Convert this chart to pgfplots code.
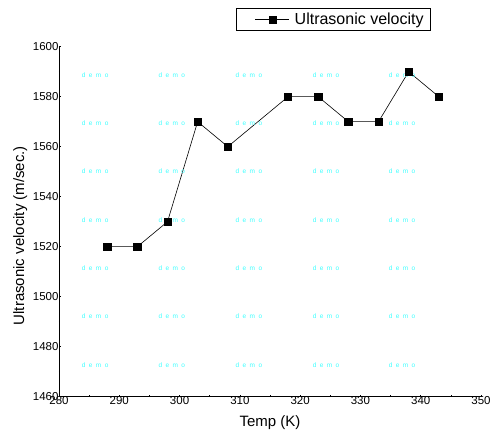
\documentclass[border=0pt]{standalone}
\usepackage{pgfplots}
\pgfplotsset{compat=1.18}
\usepackage{fontspec}
\setmainfont{Liberation Sans}
\definecolor{wmcyan}{RGB}{64,255,255}
\newcommand{\wm}{d\hspace{3.4pt}e\hspace{3.4pt}m\hspace{3.4pt}o}
\begin{document}
\begin{tikzpicture}
\begin{axis}[
  scale only axis, width=422pt, height=350pt,
  xmin=280, xmax=350, ymin=1460, ymax=1600,
  axis x line*=bottom, axis y line*=left,
  axis line style={line width=0.9pt},
  xtick={280,290,...,350}, ytick={1460,1480,...,1600},
  minor x tick num=1, minor y tick num=1,
  tick align=inside, major tick length=2pt, minor tick length=1.5pt,
  tick style={black, line width=0.6pt},
  /pgf/number format/assume math mode=true,
  /pgf/number format/1000 sep={},
  tick label style={font=\fontsize{11.5}{12}\selectfont},
  xticklabel style={yshift=4pt},
  yticklabel style={xshift=3pt},
  xlabel={Temp (K)},
  ylabel={Ultrasonic velocity (m/sec.)},
  label style={font=\fontsize{15}{16}\selectfont},
  xlabel style={at={(axis description cs:0.5,-0.075)}, anchor=center},
  ylabel style={at={(axis description cs:-0.092,0.46)}, anchor=center},
  legend style={at={(axis description cs:0.419,1.11)}, anchor=north west,
    draw=black, line width=0.6pt, font=\fontsize{16}{17}\selectfont,
    inner xsep=5pt, inner ysep=2.5pt},
  legend cell align=left,
  legend image code/.code={
    \path (-14pt,0pt) (37pt,0pt);
    \draw[mark repeat=2, mark phase=2, #1]
      plot coordinates {(0pt,0pt) (17pt,0pt) (34pt,0pt)};
  },
]
\addplot[black, line width=0.6pt, mark=square*, mark size=3.6pt,
  mark options={solid}] coordinates {
  (288,1520) (293,1520) (298,1530) (303,1570) (308,1560) (318,1580)
  (323,1580) (328,1570) (333,1570) (338,1590) (343,1580)
};
\addlegendentry{Ultrasonic velocity\hspace{5pt}}
\foreach \xx in {286,298.7,311.5,324.3,336.9} {
  \foreach \yy in {1588.7,1569.4,1550.1,1530.8,1511.4,1492.1,1472.8} {
    \edef\tmp{\noexpand\node[text=wmcyan, font=\noexpand\fontsize{6.5}{7}\noexpand\selectfont, inner sep=0pt]
      at (axis cs:\xx,\yy) {\noexpand\wm};}
    \tmp
  }
}
\coordinate (sw) at (rel axis cs:0,0);
\end{axis}
\pgfresetboundingbox
\path (sw) ++(-59pt,-34.3pt) rectangle ++(490pt,431pt);
\end{tikzpicture}
\end{document}
